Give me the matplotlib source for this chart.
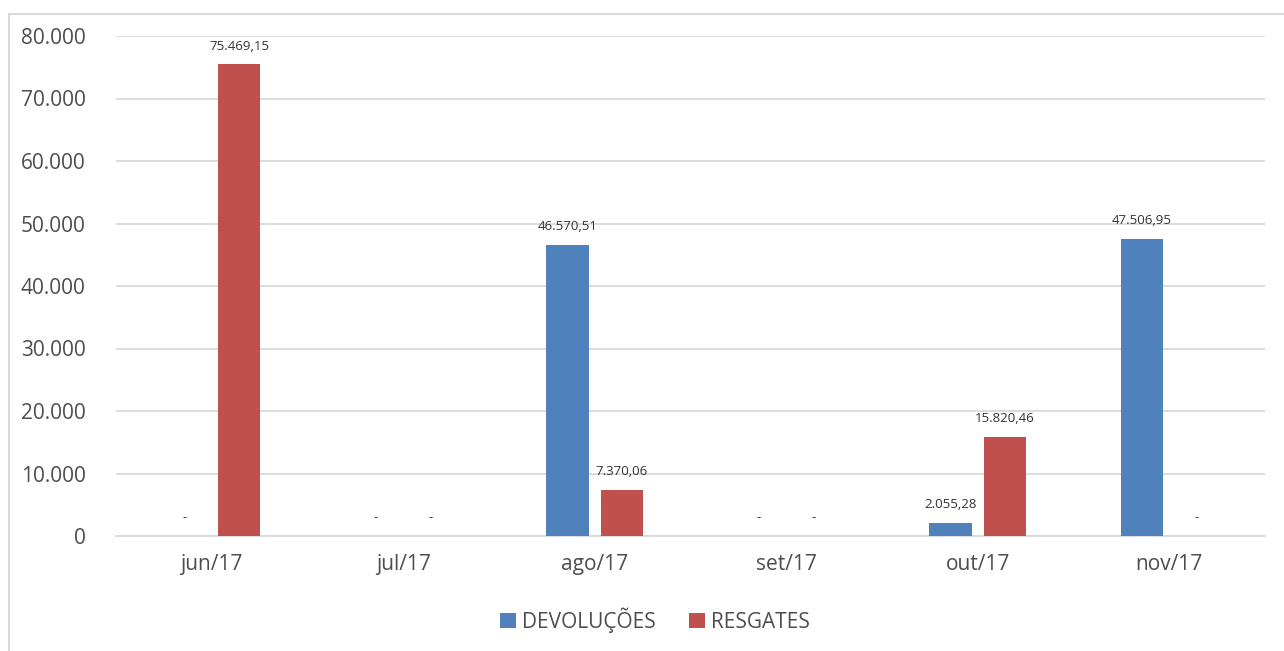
import numpy as np
import matplotlib
matplotlib.use("Agg")
from matplotlib import pyplot as plt, patches

months = ["jun/17", "jul/17", "ago/17", "set/17", "out/17", "nov/17"]
devolucoes = [0, 0, 46570.51, 0, 2055.28, 47506.95]
resgates = [75469.15, 0, 7370.06, 0, 15820.46, 0]
series_names = ["DEVOLUÇÕES", "RESGATES"]
colors = ["#4F81BD", "#C0504D"]


def br_fmt(v, dec=2):
    s = f"{v:,.{dec}f}"
    return s.replace(",", "X").replace(".", ",").replace("X", ".")


plt.rcParams["font.family"] = ["Open Sans", "DejaVu Sans"]
fig = plt.figure(figsize=(12.84, 6.51), dpi=100)
ax = fig.add_axes([116 / 1284, 1 - 536 / 651, 1149 / 1284, 500 / 651])

x = np.arange(len(months))
w = 0.22
off = 0.142
for vals, dx, col, name in [(devolucoes, -off, colors[0], series_names[0]),
                            (resgates, off, colors[1], series_names[1])]:
    ax.bar(x + dx, vals, width=w, color=col, label=name, zorder=3)
    for xi, v in zip(x + dx, vals):
        txt = br_fmt(v) if v > 0 else "-"
        ax.annotate(txt, (xi, v), xytext=(0, 8.5 if v > 0 else 13), textcoords="offset points",
                    ha="center", va="bottom" if v > 0 else "center", fontsize=9.5, color="#333333")

ax.set_xlim(-0.5, len(months) - 0.5)
ax.set_ylim(0, 80000)
ticks = np.arange(0, 80001, 10000)
ax.set_yticks(ticks)
ax.set_yticklabels([br_fmt(t, 0) for t in ticks])
ax.set_xticks(x)
ax.set_xticklabels(months)
ax.tick_params(axis="both", length=0, labelsize=15, labelcolor="#4D4D4D")
ax.tick_params(axis="x", pad=13)
ax.tick_params(axis="y", pad=22)
ax.grid(axis="y", color="#D9D9D9", linewidth=1.3, zorder=0)
for s in ["top", "right", "left"]:
    ax.spines[s].set_visible(False)
ax.spines["bottom"].set_color("#D9D9D9")
ax.spines["bottom"].set_linewidth(1.3)

fig.legend(loc="center", bbox_to_anchor=(0.51, 1 - 620 / 651), ncol=2, frameon=False,
           fontsize=15, handlelength=0.75, handleheight=0.75, handletextpad=0.3,
           columnspacing=1.6, labelcolor="#4D4D4D")

# outer chart frame (cut off at right and bottom)
frame = patches.Rectangle((9 / 1284, -0.1), 1.2, 1.1 - 14 / 651, transform=fig.transFigure,
                          fill=False, edgecolor="#D9D9D9", linewidth=1.5, clip_on=False)
fig.patches.append(frame)

fig.savefig("out.png", dpi=100)
